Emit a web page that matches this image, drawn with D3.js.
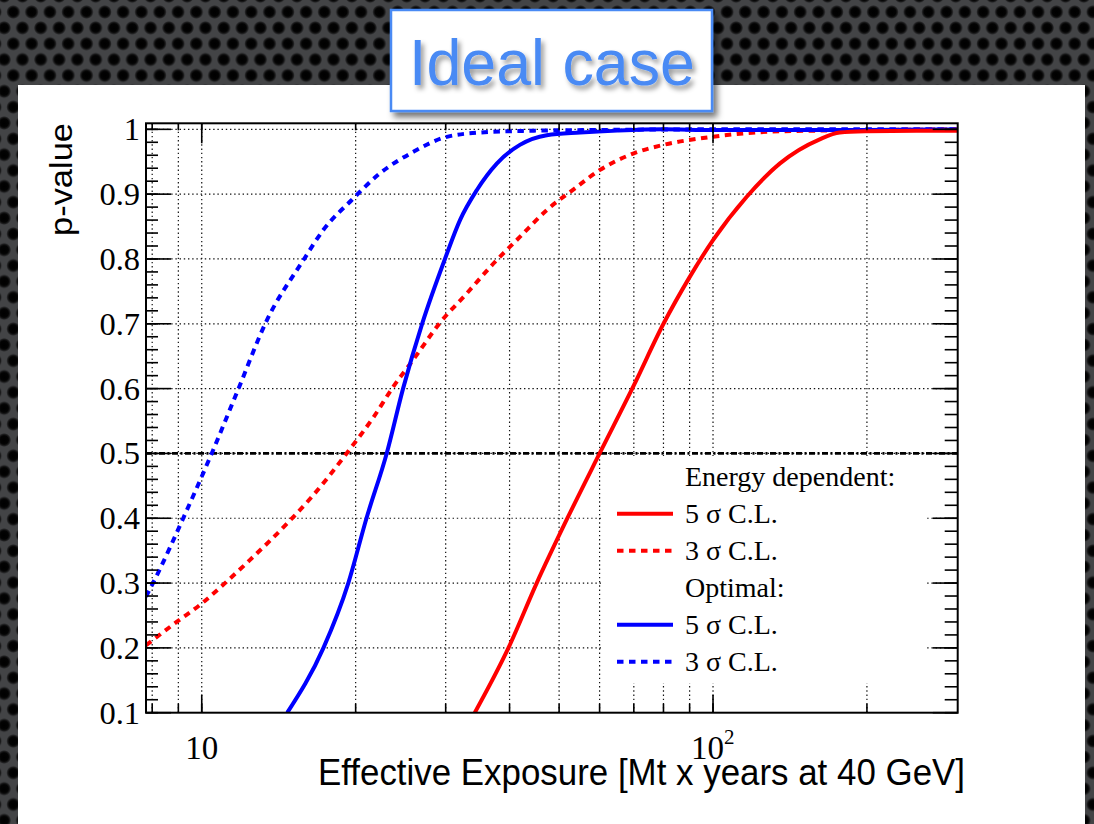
<!DOCTYPE html>
<html>
<head>
<meta charset="utf-8">
<script src="https://cdn.jsdelivr.net/npm/d3@7"></script>
<style>
  html, body { margin: 0; padding: 0; background: #3b3c3e; }
  svg { display: block; }
</style>
</head>
<body>
<svg id="chart" width="1094" height="824"></svg>
<script>
// ---- data: exposure (Mt x years at 40 GeV) vs p-value ----
const energy5X = [34.2, 39.8, 45.2, 51.9, 60, 70, 80, 90, 100, 116.4, 135.2, 161.7, 177, 200, 250, 301];
const energy5P = [0.1, 0.2, 0.3, 0.4, 0.5, 0.605, 0.70, 0.772, 0.829, 0.896, 0.9475, 0.9846, 0.995, 0.997, 0.998, 0.998];

const energy3X = [7.78, 8.93, 10, 11.0, 12.4, 14.9, 16.5, 19.2, 21.7, 23.7, 25.9, 29.2, 33.0, 37.2, 41.9, 47.3, 53.7, 60, 70, 80, 100, 129, 162, 220, 301];
const energy3P = [0.204, 0.240, 0.2685, 0.297, 0.335, 0.397, 0.435, 0.50, 0.5565, 0.603, 0.644, 0.701, 0.747, 0.793, 0.834, 0.8755, 0.909, 0.937, 0.963, 0.976, 0.9886, 0.9963, 0.998, 0.999, 1.0];

const optimal5X = [14.7, 17.3, 19.35, 21.0, 23.0, 24.76, 26.98, 29.9, 32.0, 34.5, 37.8, 41.9, 47.3, 55, 65, 80, 100, 200, 301];
const optimal5P = [0.1, 0.2, 0.3, 0.4, 0.5, 0.6, 0.7, 0.8, 0.860, 0.906, 0.9475, 0.976, 0.991, 0.995, 0.998, 1.0, 0.999, 0.999, 1.0];

const optimal3X = [7.78, 8.17, 9.2, 10.46, 11.8, 13.4, 15.8, 17.3, 19.65, 22.3, 25.9, 30, 35, 45, 60, 100, 200, 301];
const optimal3P = [0.279, 0.312, 0.40, 0.50, 0.60, 0.705, 0.798, 0.845, 0.891, 0.932, 0.965, 0.988, 0.995, 0.998, 0.999, 1.0, 1.0, 1.0];

const thresholdP = 0.5;

// ---- axes ----
const xDomain = [7.78, 301];
const yDomain = [0.1, 1.0093];
const xMinorTicks = [8, 9, 10, 20, 30, 40, 50, 60, 70, 80, 90, 100, 200];
const xMajorTicks = [10, 100];
const xGridTicks = [8, 9, 10, 20, 30, 40, 50, 60, 70, 80, 90, 100, 200];
const yMajorTicks = [0.1, 0.2, 0.3, 0.4, 0.5, 0.6, 0.7, 0.8, 0.9, 1.0];
const yMinorTicks = d3.range(0, 46).map(i => +(0.1 + i * 0.02).toFixed(2)).filter(v => v <= 1.0);
const yTickLabels = ["0.1", "0.2", "0.3", "0.4", "0.5", "0.6", "0.7", "0.8", "0.9", "1"];
const xTickLabels = [{ v: 10, base: "10", exp: "" }, { v: 100, base: "10", exp: "2" }];

const xTitle = "Effective Exposure [Mt x years at 40 GeV]";
const yTitle = "p-value";
const boxTitle = "Ideal case";

const dotted = "6.5,5.5";
const legendEntries = [
  { label: "Energy dependent:", color: null },
  { label: "5 \u03c3 C.L.", color: "#ff0000", dash: null },
  { label: "3 \u03c3 C.L.", color: "#ff0000", dash: dotted },
  { label: "Optimal:", color: null },
  { label: "5 \u03c3 C.L.", color: "#0000ff", dash: null },
  { label: "3 \u03c3 C.L.", color: "#0000ff", dash: dotted }
];

const series = [
  { xs: optimal3X, ps: optimal3P, color: "#0000ff", dash: dotted },
  { xs: energy3X, ps: energy3P, color: "#ff0000", dash: dotted },
  { xs: optimal5X, ps: optimal5P, color: "#0000ff", dash: null },
  { xs: energy5X, ps: energy5P, color: "#ff0000", dash: null }
];

// ---- layout ----
const frame = { left: 146, right: 957.7, top: 123.3, bottom: 712.7 };
const serif = "'Liberation Serif', 'Times New Roman', serif";
const sans = "'Liberation Sans', Arial, Helvetica, sans-serif";

const svg = d3.select("#chart");
const defs = svg.append("defs");

// perforated-metal backdrop
const holeGrad = defs.append("radialGradient").attr("id", "hole");
holeGrad.append("stop").attr("offset", "0%").attr("stop-color", "#000");
holeGrad.append("stop").attr("offset", "60%").attr("stop-color", "#030303");
holeGrad.append("stop").attr("offset", "82%").attr("stop-color", "#1d1d1e");
holeGrad.append("stop").attr("offset", "100%").attr("stop-color", "#434446");
const pat = defs.append("pattern").attr("id", "perf")
  .attr("patternUnits", "userSpaceOnUse")
  .attr("width", 18.3).attr("height", 31.7)
  .attr("patternTransform", "translate(4.15,4.1)");
pat.append("rect").attr("width", 18.3).attr("height", 31.7).attr("fill", "#434446");
[[9.15, 7.9], [0, 23.75], [18.3, 23.75], [0, -7.95], [18.3, -7.95], [9.15, 39.6]].forEach(([cx, cy]) => {
  pat.append("circle").attr("cx", cx).attr("cy", cy).attr("r", 7).attr("fill", "url(#hole)");
});

const boxShadow = defs.append("filter").attr("id", "boxShadow")
  .attr("x", "-10%").attr("y", "-10%").attr("width", "130%").attr("height", "140%");
boxShadow.append("feDropShadow").attr("dx", 4).attr("dy", 5).attr("stdDeviation", 3)
  .attr("flood-color", "#000").attr("flood-opacity", 0.55);
const textShadow = defs.append("filter").attr("id", "textShadow")
  .attr("x", "-10%").attr("y", "-10%").attr("width", "130%").attr("height", "140%");
textShadow.append("feDropShadow").attr("dx", 3).attr("dy", 4).attr("stdDeviation", 2.5)
  .attr("flood-color", "#000").attr("flood-opacity", 0.4);

svg.append("rect").attr("width", 1094).attr("height", 824).attr("fill", "url(#perf)");
svg.append("rect").attr("x", 18).attr("y", 85).attr("width", 1067).attr("height", 740).attr("fill", "#ffffff");

// ---- scales ----
const x = d3.scaleLog().domain(xDomain).range([frame.left, frame.right]);
const y = d3.scaleLinear().domain(yDomain).range([frame.bottom, frame.top]);

defs.append("clipPath").attr("id", "plotClip").append("rect")
  .attr("x", frame.left).attr("y", frame.top)
  .attr("width", frame.right - frame.left).attr("height", frame.bottom - frame.top);

// ---- grid ----
const grid = svg.append("g").attr("stroke", "#111").attr("stroke-width", 1.2)
  .attr("stroke-dasharray", "1.4,2.8");
grid.selectAll("line.gx").data(xGridTicks).join("line")
  .attr("x1", d => x(d)).attr("x2", d => x(d))
  .attr("y1", frame.top).attr("y2", frame.bottom);
grid.selectAll("line.gy").data(yMajorTicks.filter(v => v > 0.1)).join("line")
  .attr("x1", frame.left).attr("x2", frame.right)
  .attr("y1", d => y(d)).attr("y2", d => y(d));

// threshold line at p = 0.5
svg.append("line")
  .attr("x1", frame.left).attr("x2", frame.right)
  .attr("y1", y(thresholdP)).attr("y2", y(thresholdP))
  .attr("stroke", "#000").attr("stroke-width", 2.6)
  .attr("stroke-dasharray", "6,2.5,2,2.5");

// ---- curves ----
const line = d3.line().x(d => x(d[0])).y(d => y(d[1])).curve(d3.curveMonotoneX);
const curves = svg.append("g").attr("clip-path", "url(#plotClip)");
series.forEach(s => {
  const pts = s.xs.map((v, i) => [v, s.ps[i]]);
  curves.append("path").datum(pts)
    .attr("d", line)
    .attr("fill", "none")
    .attr("stroke", s.color)
    .attr("stroke-width", 4)
    .attr("stroke-dasharray", s.dash)
    .attr("stroke-linejoin", "round");
});

// ---- legend ----
const legend = svg.append("g");
legend.append("rect").attr("x", 601).attr("y", 456).attr("width", 326).attr("height", 227).attr("fill", "#fff");
const rowY0 = 476.7, rowStep = 37;
legendEntries.forEach((e, i) => {
  const ry = rowY0 + i * rowStep;
  if (e.color) {
    legend.append("line").attr("x1", 617).attr("x2", 673).attr("y1", ry).attr("y2", ry)
      .attr("stroke", e.color).attr("stroke-width", 4).attr("stroke-dasharray", e.dash);
  }
  legend.append("text").attr("x", 685).attr("y", ry).attr("dy", "0.34em")
    .attr("font-family", serif).attr("font-size", 28).attr("fill", "#000")
    .text(e.label);
});

// ---- frame & ticks ----
const tickG = svg.append("g").attr("stroke", "#000").attr("stroke-width", 1.6);
function ticks(vals, fn) { vals.forEach(v => { const [a, b, c, d] = fn(v); tickG.append("line").attr("x1", a).attr("y1", b).attr("x2", c).attr("y2", d); }); }
// x ticks (bottom, top)
ticks(xMinorTicks, v => [x(v), frame.bottom, x(v), frame.bottom - 9]);
ticks(xMajorTicks, v => [x(v), frame.bottom, x(v), frame.bottom - 18]);
ticks(xMinorTicks, v => [x(v), frame.top, x(v), frame.top + 7]);
ticks(xMajorTicks, v => [x(v), frame.top, x(v), frame.top + 20]);
// y ticks (left, right)
ticks(yMinorTicks, v => [frame.left, y(v), frame.left + 12, y(v)]);
ticks(yMajorTicks, v => [frame.left, y(v), frame.left + 25, y(v)]);
ticks(yMinorTicks, v => [frame.right, y(v), frame.right - 13, y(v)]);
ticks(yMajorTicks, v => [frame.right, y(v), frame.right - 25, y(v)]);

svg.append("rect")
  .attr("x", frame.left).attr("y", frame.top)
  .attr("width", frame.right - frame.left).attr("height", frame.bottom - frame.top)
  .attr("fill", "none").attr("stroke", "#000").attr("stroke-width", 2);

// ---- tick labels ----
svg.append("g").selectAll("text").data(yMajorTicks).join("text")
  .attr("x", 140).attr("y", d => y(d)).attr("dy", "0.34em")
  .attr("text-anchor", "end")
  .attr("font-family", serif).attr("font-size", 32.5).attr("fill", "#000")
  .text((d, i) => yTickLabels[i]);

xTickLabels.forEach(t => {
  const txt = svg.append("text")
    .attr("x", t.exp ? x(t.v) - 22 : x(t.v))
    .attr("y", 759)
    .attr("text-anchor", t.exp ? "start" : "middle")
    .attr("font-family", serif).attr("font-size", 33).attr("fill", "#000");
  txt.append("tspan").text(t.base);
  if (t.exp) txt.append("tspan").attr("dy", -15).attr("font-size", 21).text(t.exp);
});

// ---- axis titles ----
svg.append("text")
  .attr("x", 965).attr("y", 785)
  .attr("text-anchor", "end")
  .attr("font-family", sans).attr("font-size", 36).attr("fill", "#000")
  .attr("textLength", 647).attr("lengthAdjust", "spacingAndGlyphs")
  .text(xTitle);

svg.append("text")
  .attr("transform", "translate(72,123) rotate(-90)")
  .attr("text-anchor", "end")
  .attr("font-family", sans).attr("font-size", 31).attr("fill", "#000")
  .attr("textLength", 113).attr("lengthAdjust", "spacingAndGlyphs")
  .text(yTitle);

// ---- title box ----
svg.append("rect")
  .attr("x", 391).attr("y", 10).attr("width", 321).attr("height", 101)
  .attr("fill", "#fff").attr("stroke", "#4a8af4").attr("stroke-width", 2.5)
  .attr("filter", "url(#boxShadow)");
svg.append("text")
  .attr("x", 409).attr("y", 85)
  .attr("font-family", sans).attr("font-size", 64).attr("fill", "#4a8af4")
  .attr("textLength", 286).attr("lengthAdjust", "spacingAndGlyphs")
  .attr("filter", "url(#textShadow)")
  .text(boxTitle);
</script>
</body>
</html>
